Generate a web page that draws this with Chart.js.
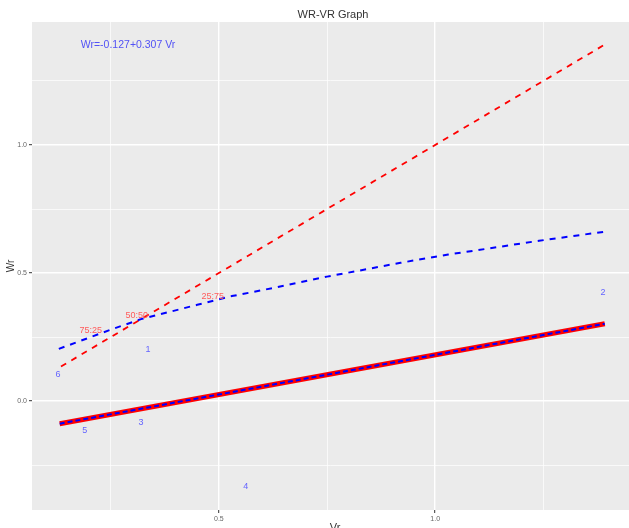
<!DOCTYPE html>
<html>
<head>
<meta charset="utf-8">
<script src="https://cdn.jsdelivr.net/npm/chart.js@4.4.0/dist/chart.umd.min.js"></script>
<style>
  html, body { margin: 0; padding: 0; background: #fff; }
  canvas { display: block; }
</style>
</head>
<body>
<canvas id="myChart" width="629" height="528"></canvas>
<script>
// sample points (labelled by number)
const pointIds = ['1', '2', '3', '4', '5', '6'];
const pointVr = [0.336, 1.388, 0.320, 0.562, 0.190, 0.128];
const pointWr = [0.200, 0.423, -0.084, -0.335, -0.116, 0.103];

// regression line Wr=-0.127+0.307 Vr, end points
const regVr = [0.132, 1.392];
const regWr = [-0.088, 0.302];

// 1:1 line (red dashed)
const oneVr = [0.135, 1.395];
const oneWr = [0.135, 1.395];

// limit curve (blue dashed)
const curveVr = [0.13, 0.25, 0.32, 0.45, 0.53, 0.60, 0.75, 0.92, 1.03, 1.12, 1.24, 1.39];
const curveWr = [0.204, 0.279, 0.320, 0.376, 0.410, 0.433, 0.486, 0.540, 0.572, 0.595, 0.626, 0.661];

// ratio labels
const ratioText = ['75:25', '50:50', '25:75'];
const ratioVr = [0.204, 0.310, 0.486];
const ratioWr = [0.275, 0.333, 0.408];

const equationText = 'Wr=-0.127+0.307 Vr';
const titleText = 'WR-VR Graph';

const toXY = (xs, ys) => xs.map((x, i) => ({ x: x, y: ys[i] }));

const isMajor = (v) => Math.abs(v / 0.5 - Math.round(v / 0.5)) < 1e-6;

const panelBg = {
  id: 'panelBg',
  beforeDraw(chart) {
    const { ctx, chartArea: a } = chart;
    ctx.save();
    ctx.fillStyle = '#ebebeb';
    ctx.fillRect(a.left, a.top, a.right - a.left, a.bottom - a.top);
    ctx.restore();
  }
};

const textLayer = {
  id: 'textLayer',
  afterDatasetsDraw(chart) {
    const ctx = chart.ctx;
    const xs = chart.scales.x;
    const ys = chart.scales.y;
    ctx.save();
    ctx.textAlign = 'center';
    ctx.textBaseline = 'middle';

    ctx.font = '9px "Liberation Sans", Arial, sans-serif';
    ctx.fillStyle = '#6464ff';
    pointIds.forEach((t, i) => {
      ctx.fillText(t, xs.getPixelForValue(pointVr[i]), ys.getPixelForValue(pointWr[i]));
    });

    ctx.font = '9px "Liberation Sans", Arial, sans-serif';
    ctx.fillStyle = '#ff5a5a';
    ratioText.forEach((t, i) => {
      ctx.fillText(t, xs.getPixelForValue(ratioVr[i]), ys.getPixelForValue(ratioWr[i]));
    });

    ctx.font = '10.5px "Liberation Sans", Arial, sans-serif';
    ctx.fillStyle = '#5252f5';
    ctx.fillText(equationText, xs.getPixelForValue(0.29), ys.getPixelForValue(1.39));
    ctx.restore();
  },
  afterDraw(chart) {
    const ctx = chart.ctx;
    const a = chart.chartArea;
    ctx.save();
    ctx.fillStyle = '#333';
    ctx.textAlign = 'center';
    ctx.textBaseline = 'middle';
    ctx.font = '11px "Liberation Sans", Arial, sans-serif';
    ctx.fillText(titleText, 333, 15);

    ctx.textBaseline = 'top';
    ctx.fillText('Vr', 335, 522);

    ctx.translate(11, (a.top + a.bottom) / 2);
    ctx.rotate(-Math.PI / 2);
    ctx.textBaseline = 'middle';
    ctx.font = '10px "Liberation Sans", Arial, sans-serif';
    ctx.fillText('Wr', 0, 0);
    ctx.restore();
  }
};

const lineSet = (label, data, color, width, dash, order) => ({
  label: label,
  data: data,
  showLine: true,
  borderColor: color,
  borderWidth: width,
  borderDash: dash,
  pointRadius: 0,
  fill: false,
  tension: 0,
  order: order
});

const gridOpts = {
  color: '#ffffff',
  lineWidth: (c) => (c.tick && isMajor(c.tick.value) ? 1.4 : 0.7),
  tickLength: 3,
  tickColor: (c) => (c.tick && isMajor(c.tick.value) ? '#333333' : 'rgba(0,0,0,0)'),
  tickWidth: 1
};

const config = {
  type: 'scatter',
  data: {
    datasets: [
      lineSet('reg overlay', toXY(regVr, regWr), '#0000ff', 2, [5, 3], 0),
      lineSet('reg', toXY(regVr, regWr), '#ff0000', 5, [], 1),
      lineSet('curve', toXY(curveVr, curveWr), '#0000ff', 2, [6, 6], 2),
      lineSet('one', toXY(oneVr, oneWr), '#ff0000', 1.8, [6, 6], 3)
    ]
  },
  options: {
    responsive: false,
    animation: false,
    devicePixelRatio: 1,
    layout: { padding: { top: 22, left: 0, right: 0, bottom: 0 } },
    plugins: {
      legend: { display: false },
      tooltip: { enabled: false },
      title: { display: false }
    },
    scales: {
      x: {
        type: 'linear',
        min: 0.068,
        max: 1.448,
        border: { display: false },
        grid: gridOpts,
        ticks: {
          stepSize: 0.25,
          includeBounds: false,
          autoSkip: false,
          maxRotation: 0,
          padding: 2,
          color: '#666666',
          font: { size: 7, family: '"Liberation Sans", Arial, sans-serif' },
          callback: (v) => (isMajor(v) ? Number(v).toFixed(1) : '')
        },
        afterFit: (s) => { s.height = 18; }
      },
      y: {
        type: 'linear',
        min: -0.425,
        max: 1.48,
        border: { display: false },
        grid: gridOpts,
        ticks: {
          stepSize: 0.25,
          includeBounds: false,
          autoSkip: false,
          padding: 2,
          color: '#666666',
          font: { size: 7, family: '"Liberation Sans", Arial, sans-serif' },
          callback: (v) => (isMajor(v) ? Number(v).toFixed(1) : '')
        },
        afterFit: (s) => { s.width = 32; }
      }
    }
  },
  plugins: [panelBg, textLayer]
};

const chart = new Chart(document.querySelector('#myChart'), config);
</script>
</body>
</html>
